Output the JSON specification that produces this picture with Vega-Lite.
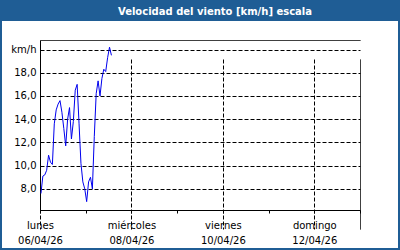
{
  "$schema": "https://vega.github.io/schema/vega-lite/v6.json",
  "width": 396,
  "height": 227,
  "autosize": {"type": "none"},
  "padding": {"left": 2, "right": 2, "top": 21, "bottom": 2},
  "background": "#1f5d95",
  "title": {
    "text": "Velocidad del viento [km/h] escala",
    "color": "white",
    "font": "DejaVu Sans",
    "fontSize": 10,
    "fontWeight": "bold",
    "anchor": "middle",
    "frame": "group",
    "dx": 15,
    "dy": 11,
    "offset": 7,
    "baseline": "alphabetic"
  },
  "config": {
    "view": {"fill": "white", "stroke": null},
    "axis": {
      "labelFont": "DejaVu Sans",
      "labelFontSize": 10,
      "labelColor": "black",
      "domainColor": "black",
      "tickColor": "black",
      "gridColor": "black",
      "title": null
    }
  },
  "data": {
    "values": [
      {"time": "2026-04-06 00:30", "speed": 7.6},
      {"time": "2026-04-06 01:30", "speed": 9.1},
      {"time": "2026-04-06 02:30", "speed": 9.2},
      {"time": "2026-04-06 03:30", "speed": 9.6},
      {"time": "2026-04-06 04:30", "speed": 10.9},
      {"time": "2026-04-06 05:30", "speed": 10.3},
      {"time": "2026-04-06 06:30", "speed": 10.1},
      {"time": "2026-04-06 07:30", "speed": 13.6},
      {"time": "2026-04-06 08:30", "speed": 14.8},
      {"time": "2026-04-06 09:30", "speed": 15.3},
      {"time": "2026-04-06 10:30", "speed": 15.6},
      {"time": "2026-04-06 11:30", "speed": 14.6},
      {"time": "2026-04-06 12:30", "speed": 13.2},
      {"time": "2026-04-06 13:30", "speed": 11.7},
      {"time": "2026-04-06 14:30", "speed": 14.0},
      {"time": "2026-04-06 15:30", "speed": 15.0},
      {"time": "2026-04-06 16:30", "speed": 12.3},
      {"time": "2026-04-06 17:30", "speed": 13.8},
      {"time": "2026-04-06 18:30", "speed": 16.5},
      {"time": "2026-04-06 19:30", "speed": 17.0},
      {"time": "2026-04-06 20:30", "speed": 13.6},
      {"time": "2026-04-06 21:30", "speed": 10.2},
      {"time": "2026-04-06 22:30", "speed": 8.6},
      {"time": "2026-04-06 23:30", "speed": 8.0},
      {"time": "2026-04-07 00:30", "speed": 6.9},
      {"time": "2026-04-07 01:30", "speed": 8.6},
      {"time": "2026-04-07 02:30", "speed": 9.0},
      {"time": "2026-04-07 03:30", "speed": 8.0},
      {"time": "2026-04-07 04:30", "speed": 12.5},
      {"time": "2026-04-07 05:30", "speed": 16.2},
      {"time": "2026-04-07 06:30", "speed": 17.3},
      {"time": "2026-04-07 07:30", "speed": 16.0},
      {"time": "2026-04-07 08:30", "speed": 17.5},
      {"time": "2026-04-07 09:30", "speed": 18.3},
      {"time": "2026-04-07 10:30", "speed": 18.1},
      {"time": "2026-04-07 11:30", "speed": 19.3},
      {"time": "2026-04-07 12:30", "speed": 20.2},
      {"time": "2026-04-07 13:30", "speed": 19.5}
    ]
  },
  "mark": {"type": "line", "color": "#0000ee", "strokeWidth": 1},
  "encoding": {
    "x": {
      "field": "time",
      "type": "temporal",
      "scale": {
        "domain": [
          {"year": 2026, "month": 4, "date": 6},
          {"year": 2026, "month": 4, "date": 13}
        ],
        "range": [38, 358]
      },
      "axis": {
        "orient": "bottom",
        "offset": -38,
        "values": [
          {"year": 2026, "month": 4, "date": 6},
          {"year": 2026, "month": 4, "date": 7},
          {"year": 2026, "month": 4, "date": 8},
          {"year": 2026, "month": 4, "date": 9},
          {"year": 2026, "month": 4, "date": 10},
          {"year": 2026, "month": 4, "date": 11},
          {"year": 2026, "month": 4, "date": 12},
          {"year": 2026, "month": 4, "date": 13}
        ],
        "labelExpr": "date(datum.value) % 2 == 0 ? [['domingo','lunes','martes','miércoles','jueves','viernes','sábado'][day(datum.value)], timeFormat(datum.value, '%d/%m/%y')] : ''",
        "labelLineHeight": 15,
        "labelPadding": 7,
        "labelAlign": "center",
        "labelFlush": false,
        "labelOverlap": false,
        "tickSize": 3,
        "grid": true,
        "gridOpacity": {"condition": {"test": "date(datum.value) % 2 == 0 || date(datum.value) == 13", "value": 1}, "value": 0},
        "gridDash": {"condition": {"test": "date(datum.value) == 13", "value": [1, 0]}, "value": [4, 2]}
      }
    },
    "y": {
      "field": "speed",
      "type": "quantitative",
      "scale": {"domain": [6.18, 20.82], "range": [189, 19], "nice": false, "zero": false},
      "axis": {
        "orient": "left",
        "offset": -38,
        "values": [8, 10, 12, 14, 16, 18, 20, 20.82],
        "labelExpr": "datum.value > 20.5 ? '' : datum.value == 20 ? 'km/h' : replace(format(datum.value, '.1f'), '.', ',')",
        "ticks": false,
        "labelPadding": 4,
        "grid": true,
        "gridDash": {"condition": {"test": "datum.value > 20.5", "value": [1, 0]}, "value": [4, 2]}
      }
    }
  }
}
